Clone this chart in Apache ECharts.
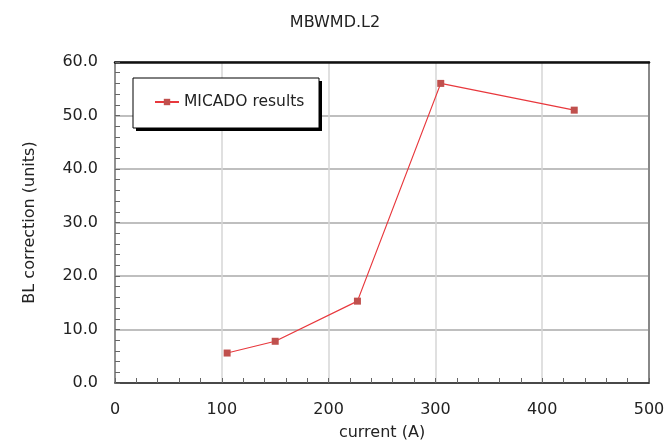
<!DOCTYPE html>
<html>
<head>
<meta charset="utf-8">
<script src="https://cdn.jsdelivr.net/npm/echarts@6/dist/echarts.min.js"></script>
<style>
  html, body { margin: 0; padding: 0; background: #fff; }
  #chart { width: 670px; height: 446px; }
</style>
</head>
<body>
<div id="chart"></div>
<script>
  // values
  var currents = [105, 150, 227, 305, 430];
  var blValues = [5.6, 7.8, 15.3, 56.0, 51.0];
  var seriesName = 'MICADO results';

  var font = 'DejaVu Sans, Verdana, sans-serif';
  var points = [];
  for (var i = 0; i < currents.length; i++) {
    points.push([currents[i], blValues[i]]);
  }

  var chart = echarts.init(document.getElementById('chart'));
  chart.setOption({
    backgroundColor: '#fff',
    animation: false,
    title: {
      text: 'MBWMD.L2',
      left: 'center',
      top: 10,
      textStyle: { fontFamily: font, fontSize: 16, fontWeight: 'normal', color: '#222' }
    },
    // legend box with its hard shadow
    graphic: [{
      type: 'rect',
      shape: { x: 136, y: 81, width: 186, height: 50 },
      style: { fill: '#000' },
      z: 10
    }, {
      type: 'rect',
      shape: { x: 133, y: 78, width: 186, height: 50 },
      style: { fill: '#fff', stroke: '#000', lineWidth: 1 },
      z: 10
    }],
    legend: {
      left: 154,
      top: 94,
      itemWidth: 24,
      itemHeight: 8,
      itemGap: 4,
      padding: 0,
      z: 11,
      textStyle: { fontFamily: font, fontSize: 15.5, color: '#222' },
      data: [seriesName]
    },
    grid: { left: 115, right: 21, top: 62, bottom: 61 },
    xAxis: [{
      type: 'value',
      min: 0, max: 500, interval: 100,
      name: 'current (A)',
      nameLocation: 'middle',
      nameGap: 42,
      nameTextStyle: { fontFamily: font, fontSize: 16, color: '#222' },
      axisLine: { show: true, onZero: false, lineStyle: { color: '#222', width: 1.5 } },
      axisTick: { show: true, inside: true, length: 5, lineStyle: { color: '#666' } },
      minorTick: { show: true, splitNumber: 5, length: 5, lineStyle: { color: '#666' } },
      axisLabel: { fontFamily: font, fontSize: 16, color: '#222', margin: 19 },
      splitLine: { show: true, lineStyle: { color: '#d6d6d6', width: 1.5 } }
    }, {
      type: 'value',
      position: 'top',
      min: 0, max: 500,
      axisLine: { show: true, onZero: false, lineStyle: { color: '#111', width: 2.5 } },
      axisTick: { show: false },
      axisLabel: { show: false },
      splitLine: { show: false }
    }],
    yAxis: [{
      type: 'value',
      min: 0, max: 60, interval: 10,
      name: 'BL correction (units)',
      nameLocation: 'middle',
      nameGap: 77,
      nameTextStyle: { fontFamily: font, fontSize: 16, color: '#222' },
      axisLine: { show: true, onZero: false, lineStyle: { color: '#777', width: 1.5 } },
      axisTick: { show: true, inside: true, length: 5, lineStyle: { color: '#666' } },
      minorTick: { show: true, splitNumber: 5, length: 5, lineStyle: { color: '#666' } },
      axisLabel: {
        fontFamily: font, fontSize: 16, color: '#222', margin: 17,
        formatter: function (v) { return v.toFixed(1); }
      },
      splitLine: { show: true, lineStyle: { color: '#aaa', width: 1.5 } }
    }, {
      type: 'value',
      position: 'right',
      min: 0, max: 60,
      axisLine: { show: true, onZero: false, lineStyle: { color: '#888', width: 2 } },
      axisTick: { show: false },
      axisLabel: { show: false },
      splitLine: { show: false }
    }],
    series: [{
      name: seriesName,
      type: 'line',
      data: points,
      symbol: 'rect',
      symbolSize: 7,
      itemStyle: { color: '#c0504d' },
      lineStyle: { color: '#e8383d', width: 1.2 },
      z: 5
    }]
  });
</script>
</body>
</html>
